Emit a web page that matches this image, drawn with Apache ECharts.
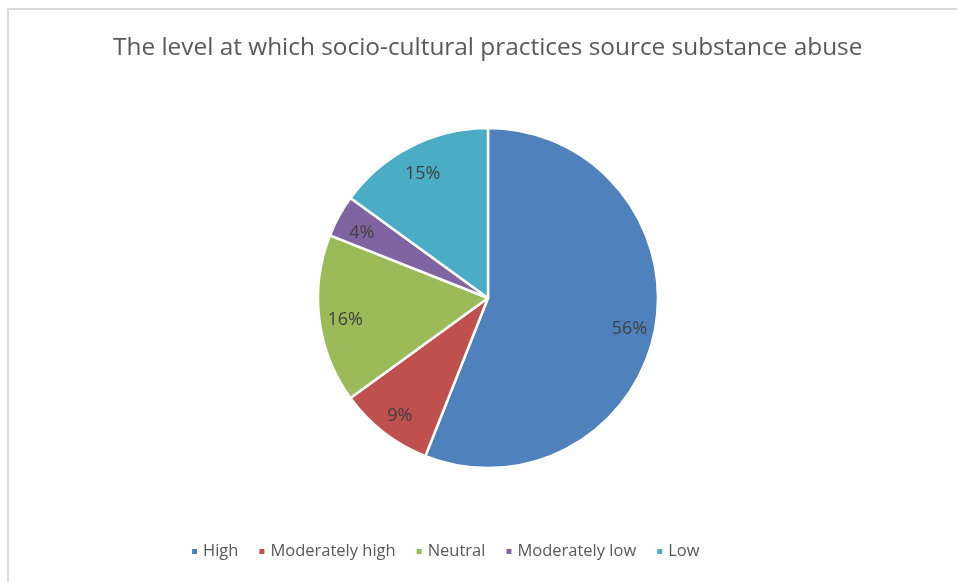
<!DOCTYPE html>
<html>
<head>
<meta charset="utf-8">
<script src="https://cdn.jsdelivr.net/npm/echarts@6/dist/echarts.min.js"></script>
<style>
html,body{margin:0;padding:0;background:#fff;}
#chart{width:957px;height:582px;}
</style>
</head>
<body>
<div id="chart"></div>
<script>
const titleText = 'The level at which socio-cultural practices source substance abuse';
const categories = ['High', 'Moderately high', 'Neutral', 'Moderately low', 'Low'];
const values = [56, 9, 16, 4, 15];
const colors = ['#4F81BD', '#C0504D', '#9BBB59', '#8064A2', '#4BACC6'];

const data = categories.map((c, i) => ({ name: c, value: values[i], itemStyle: { color: colors[i] } }));
const FONT = 'Open Sans';

const chart = echarts.init(document.getElementById('chart'), null, { renderer: 'canvas' });
chart.setOption({
  animation: false,
  backgroundColor: '#fff',
  title: {
    text: titleText,
    left: 108,
    top: 31,
    textStyle: { fontFamily: FONT, fontSize: 24.4, fontWeight: 'normal', color: '#595959' }
  },
  legend: {
    data: categories,
    left: 185,
    top: 538,
    icon: 'rect',
    itemWidth: 7,
    itemHeight: 7,
    itemGap: 19,
    textStyle: { fontFamily: FONT, fontSize: 16.5, color: '#595959' }
  },
  graphic: [{
    type: 'rect',
    shape: { x: 8, y: 9, width: 980, height: 620 },
    style: { fill: 'none', stroke: '#d9d9d9', lineWidth: 2 },
    silent: true
  }],
  series: [
    {
      type: 'pie',
      center: [488, 298],
      radius: [0, 170],
      startAngle: 90,
      clockwise: true,
      avoidLabelOverlap: false,
      data: data,
      label: { show: false },
      labelLine: { show: false },
      itemStyle: { borderColor: '#fff', borderWidth: 2.5 },
      emphasis: { disabled: true }
    },
    {
      type: 'pie',
      center: [488, 298],
      radius: [110, 172],
      startAngle: 90,
      clockwise: true,
      silent: true,
      avoidLabelOverlap: false,
      data: data.map(d => ({ name: d.name, value: d.value, itemStyle: { color: 'rgba(0,0,0,0)' } })),
      label: {
        show: true,
        position: 'inside',
        offset: [0, 4],
        formatter: p => p.value + '%',
        fontFamily: FONT,
        fontSize: 18,
        color: '#404040'
      },
      labelLine: { show: false },
      itemStyle: { borderWidth: 0 },
      emphasis: { disabled: true }
    }
  ]
});
</script>
</body>
</html>
